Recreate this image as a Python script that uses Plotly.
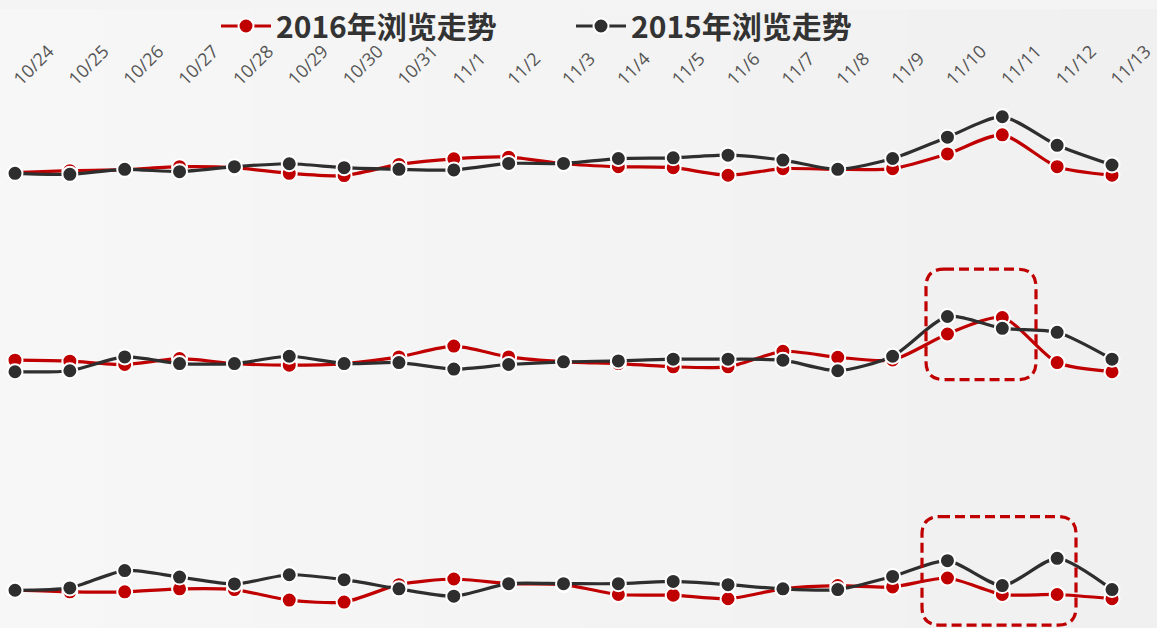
import plotly.graph_objects as go

W, H = 1157, 628

dates = ["10/24", "10/25", "10/26", "10/27", "10/28", "10/29", "10/30", "10/31",
         "11/1", "11/2", "11/3", "11/4", "11/5", "11/6", "11/7", "11/8",
         "11/9", "11/10", "11/11", "11/12", "11/13"]

# Panel 1
p1_2016 = [30, 32, 33, 36, 35, 29.3, 27, 38.3, 44, 45.7, 39, 36, 35, 27.3, 34, 33.3, 34, 49, 68.3, 36, 27.3]
p1_2015 = [29.3, 28.3, 33.3, 31, 36, 39, 35, 33.3, 32.7, 39.3, 39.3, 44.3, 45, 47.7, 42.7, 33.3, 44.3, 66, 86.7, 57.7, 37.7]
# Panel 2
p2_2016 = [41.7, 40.7, 37.3, 43.3, 38.3, 36.7, 38.3, 45, 56, 45, 40, 38.3, 35, 35, 50.7, 44.7, 42, 68.3, 85, 39.3, 30]
p2_2015 = [30, 31, 45, 38.3, 38.3, 45.7, 38.3, 39.3, 32.7, 37.3, 40, 41, 42.7, 42.7, 41.7, 31, 45.7, 86, 74, 70, 42.7]
# Panel 3
p3_2016 = [37.3, 35.7, 35.7, 38.7, 38, 27.3, 25.3, 43, 48.7, 44, 43, 33, 32.3, 28.7, 38.7, 42, 40.7, 49.7, 33, 33, 28.7]
p3_2015 = [37.3, 39.7, 57.3, 50.7, 43.7, 53, 48, 38.7, 31.3, 44, 44, 44, 46.3, 43, 38.7, 38, 51.3, 67.3, 42, 69.7, 38]

series_names = ["2016年浏览走势", "2015年浏览走势"]
RED = "#c00000"
DARK = "#2e2e2e"

xi = list(range(len(dates)))

fig = go.Figure()

panels = [("y", p1_2016, p1_2015), ("y2", p2_2016, p2_2015), ("y3", p3_2016, p3_2015)]
for k, (ya, s16, s15) in enumerate(panels):
    for name, vals, col in [(series_names[0], s16, RED), (series_names[1], s15, DARK)]:
        fig.add_trace(go.Scatter(
            x=xi, y=vals, xaxis="x", yaxis=ya, name=name,
            mode="lines+markers", showlegend=(k == 0), legendgroup=name,
            line=dict(color=col, width=3.2, shape="spline", smoothing=0.7),
            marker=dict(size=15, color=col, line=dict(color="white", width=2)),
            hoverinfo="skip"))

def px_to_pf(py):
    return 1 - py / H

# background gradient
shapes = []
N = 60
for i in range(N):
    t = i / (N - 1)
    c = round(247 - 7 * t)
    shapes.append(dict(type="rect", xref="paper", yref="paper", layer="below",
                       x0=i / N, x1=(i + 1) / N + 0.002, y0=0, y1=1,
                       fillcolor=f"rgb({c},{c},{c})", line=dict(width=0)))

def rounded(x0, y0, x1, y1, r):
    X0, X1 = x0 / W, x1 / W
    rx = r / W
    ry = r / H
    Y0, Y1 = px_to_pf(y0), px_to_pf(y1)
    return (f"M{X0+rx},{Y0} L{X1-rx},{Y0} Q{X1},{Y0} {X1},{Y0-ry} "
            f"L{X1},{Y1+ry} Q{X1},{Y1} {X1-rx},{Y1} L{X0+rx},{Y1} "
            f"Q{X0},{Y1} {X0},{Y1+ry} L{X0},{Y0-ry} Q{X0},{Y0} {X0+rx},{Y0} Z")

for (a, b, c, d) in [(926, 264, 1036, 376), (922, 515, 1076, 625)]:
    shapes.append(dict(type="path", xref="paper", yref="paper", layer="above",
                       path=rounded(a, b, c, d, 18),
                       line=dict(color=RED, width=3.2, dash="10px,5px")))

step = (1112 - 15) / 20
xr = [-15 / step, 20 + (W - 1112) / step]

def dom(top, bottom):
    return [px_to_pf(bottom), px_to_pf(top)]

fig.update_layout(
    width=W, height=H, margin=dict(l=0, r=0, t=0, b=0),
    paper_bgcolor="#f4f4f4", plot_bgcolor="rgba(0,0,0,0)",
    shapes=shapes,
    xaxis=dict(range=xr, side="top", anchor="y", tickmode="array", tickvals=xi, ticktext=dates,
               tickangle=-45, showgrid=False, zeroline=False, showline=False, ticks="",
               tickfont=dict(family="Open Sans", size=18, color="#555555")),
    yaxis=dict(domain=dom(86, 196), range=[0, 110], visible=False),
    yaxis2=dict(domain=dom(278, 398), range=[0, 120], visible=False),
    yaxis3=dict(domain=dom(519, 627), range=[0, 108], visible=False),
    legend=dict(orientation="h", x=216 / W, xanchor="left", y=1.015, yanchor="top",
                bgcolor="rgba(0,0,0,0)", itemwidth=50, entrywidth=290,
                font=dict(family="Noto Sans CJK SC", size=30, color="#333333", weight="bold")),
    showlegend=True,
)

fig.write_html("out.html")
